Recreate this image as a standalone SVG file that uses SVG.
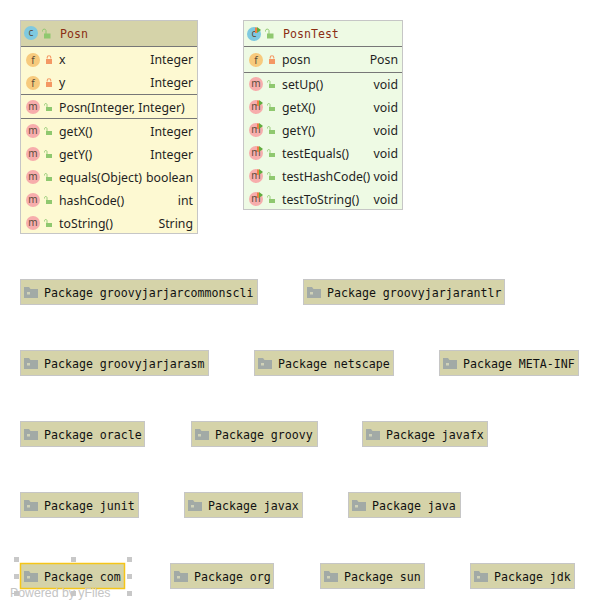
<svg xmlns="http://www.w3.org/2000/svg" width="599" height="609" viewBox="0 0 599 609">
<style>
text{font-family:"Noto Sans","Open Sans","DejaVu Sans",sans-serif;font-size:12.3px;fill:#1f1f1f}
.r{text-anchor:end}
.t{font-family:"DejaVu Sans Mono","Liberation Mono",monospace;font-size:11.6px;fill:#8b2f14}
.p{font-family:"DejaVu Sans Mono","Liberation Mono",monospace;font-size:11.6px;fill:#111}
.pk{fill:#d5d3a9;stroke:#c6c6c6;stroke-width:1}
.ln{stroke:#777;stroke-width:1}
.il{font-size:10px;text-anchor:middle;fill:#5a4a3a}
</style>
<defs>
<g id="fold"><path d="M0 -5H5L6.500 -3H14V6H0Z" fill="#a2aaa6"/><rect x="3" y="0" width="3" height="2.500" fill="#d0d2b8"/></g>
<g id="open"><path d="M-2.500 -2.500V-3.500A1.300 1.300 0 0 1 0 -3.500V-1" fill="none" stroke="#8fc86f" stroke-width="0.900"/><rect x="-1" y="-1" width="6" height="4" fill="#8fc86f"/></g>
<g id="openb"><path d="M-3.500 -2.500V-3.500A1.800 1.800 0 0 1 0 -3.500V0" fill="none" stroke="#8fc86f" stroke-width="1"/><rect x="-2" y="-0.500" width="6.500" height="5" fill="#8fc86f"/></g>
<g id="lock"><path d="M-1.800 -1.500V-2.500A1.800 1.800 0 0 1 1.800 -2.500V-1.500" fill="none" stroke="#f49864" stroke-width="1.100"/><rect x="-3" y="-1" width="6" height="5" fill="#f49864"/></g>
<g id="fi"><circle r="7" fill="#f7ca7d"/><text class="il" y="3.500">f</text></g>
<g id="mi"><circle r="7" fill="#f7adac"/><text class="il" y="3">m</text></g>
<g id="mt"><circle r="7" fill="#f7adac"/><text class="il" y="3">m</text><path d="M1 -6.500H3V-1H1Z" fill="#ef7e45"/><path d="M3 -7L7 -4L3 -1Z" fill="#5fad3e"/></g>
<g id="ct"><circle r="7" fill="#7fc9e0"/><text class="il" y="3">c</text><path d="M1 -6.500H3V-1H1Z" fill="#ef7e45"/><path d="M3 -7L7 -4L3 -1Z" fill="#5fad3e"/></g>
</defs>
<g id="connectors"></g>
<g id="node-posn">
<rect x="20.500" y="20.500" width="177" height="213" fill="#fdf9d2" stroke="#c6c6c6"/>
<rect x="21" y="21" width="176" height="25" fill="#d5d3a9"/>
<line class="ln" x1="21" x2="197" y1="46.500" y2="46.500"/>
<line class="ln" x1="21" x2="197" y1="94.500" y2="94.500"/>
<line class="ln" x1="21" x2="197" y1="118.500" y2="118.500"/>
<circle cx="31" cy="33" r="7" fill="#7fc9e0"/><text class="il" x="31" y="36">c</text>
<use href="#openb" x="46" y="34"/>
<text class="t" x="60" y="37.500">Posn</text>
<use href="#fi" x="33" y="60"/><use href="#lock" x="49" y="60"/><text x="59" y="64">x</text><text class="r" x="193" y="64">Integer</text>
<use href="#fi" x="33" y="83"/><use href="#lock" x="49" y="83"/><text x="59" y="87">y</text><text class="r" x="193" y="87">Integer</text>
<use href="#mi" x="33" y="107"/><use href="#open" x="47" y="108"/><text x="59" y="111.500">Posn(Integer, Integer)</text>
<use href="#mi" x="33" y="131"/><use href="#open" x="47" y="132"/><text x="59" y="135.500">getX()</text><text class="r" x="193" y="135.500">Integer</text>
<use href="#mi" x="33" y="154"/><use href="#open" x="47" y="155"/><text x="59" y="158.500">getY()</text><text class="r" x="193" y="158.500">Integer</text>
<use href="#mi" x="33" y="177"/><use href="#open" x="47" y="178"/><text x="59" y="181.500">equals(Object)</text><text class="r" x="193" y="181.500">boolean</text>
<use href="#mi" x="33" y="200"/><use href="#open" x="47" y="201"/><text x="59" y="204.500">hashCode()</text><text class="r" x="193" y="204.500">int</text>
<use href="#mi" x="33" y="223"/><use href="#open" x="47" y="224"/><text x="59" y="227.500">toString()</text><text class="r" x="193" y="227.500">String</text>
</g>
<g id="node-posntest">
<rect x="243.500" y="20.500" width="159" height="189" fill="#eefae4" stroke="#c6c6c6"/>
<line class="ln" x1="244" x2="402" y1="46.500" y2="46.500"/>
<line class="ln" x1="244" x2="402" y1="72.500" y2="72.500"/>
<use href="#ct" x="254" y="34"/>
<use href="#openb" x="269" y="34"/>
<text class="t" x="283" y="37.500">PosnTest</text>
<use href="#fi" x="256" y="60"/><use href="#lock" x="272" y="60"/><text x="282" y="64">posn</text><text class="r" x="398" y="64">Posn</text>
<use href="#mi" x="256" y="84"/><use href="#open" x="270" y="85"/><text x="282" y="88.500">setUp()</text><text class="r" x="398" y="88.500">void</text>
<use href="#mt" x="256" y="107"/><use href="#open" x="270" y="108"/><text x="282" y="111.500">getX()</text><text class="r" x="398" y="111.500">void</text>
<use href="#mt" x="256" y="130"/><use href="#open" x="270" y="131"/><text x="282" y="134.500">getY()</text><text class="r" x="398" y="134.500">void</text>
<use href="#mt" x="256" y="153"/><use href="#open" x="270" y="154"/><text x="282" y="157.500">testEquals()</text><text class="r" x="398" y="157.500">void</text>
<use href="#mt" x="256" y="176"/><use href="#open" x="270" y="177"/><text x="282" y="180.500">testHashCode()</text><text class="r" x="398" y="180.500">void</text>
<use href="#mt" x="256" y="199"/><use href="#open" x="270" y="200"/><text x="282" y="203.500">testToString()</text><text class="r" x="398" y="203.500">void</text>
</g>
<g id="pkg-commonscli"><rect class="pk" x="20.500" y="279.500" width="237" height="25"/><use href="#fold" x="24" y="292"/><text class="p" x="44" y="296.500">Package groovyjarjarcommonscli</text></g>
<g id="pkg-antlr"><rect class="pk" x="303.500" y="279.500" width="201" height="25"/><use href="#fold" x="307" y="292"/><text class="p" x="327" y="296.500">Package groovyjarjarantlr</text></g>
<g id="pkg-asm"><rect class="pk" x="20.500" y="350.500" width="188" height="25"/><use href="#fold" x="24" y="363"/><text class="p" x="44" y="367.500">Package groovyjarjarasm</text></g>
<g id="pkg-netscape"><rect class="pk" x="254.500" y="350.500" width="139" height="25"/><use href="#fold" x="258" y="363"/><text class="p" x="278" y="367.500">Package netscape</text></g>
<g id="pkg-meta"><rect class="pk" x="439.500" y="350.500" width="139" height="25"/><use href="#fold" x="443" y="363"/><text class="p" x="463" y="367.500">Package META-INF</text></g>
<g id="pkg-oracle"><rect class="pk" x="20.500" y="421.500" width="124" height="25"/><use href="#fold" x="24" y="434"/><text class="p" x="44" y="438.500">Package oracle</text></g>
<g id="pkg-groovy"><rect class="pk" x="191.500" y="421.500" width="126" height="25"/><use href="#fold" x="195" y="434"/><text class="p" x="215" y="438.500">Package groovy</text></g>
<g id="pkg-javafx"><rect class="pk" x="362.500" y="421.500" width="125" height="25"/><use href="#fold" x="366" y="434"/><text class="p" x="386" y="438.500">Package javafx</text></g>
<g id="pkg-junit"><rect class="pk" x="20.500" y="492.500" width="118" height="25"/><use href="#fold" x="24" y="505"/><text class="p" x="44" y="509.500">Package junit</text></g>
<g id="pkg-javax"><rect class="pk" x="184.500" y="492.500" width="118" height="25"/><use href="#fold" x="188" y="505"/><text class="p" x="208" y="509.500">Package javax</text></g>
<g id="pkg-java"><rect class="pk" x="348.500" y="492.500" width="112" height="25"/><use href="#fold" x="352" y="505"/><text class="p" x="372" y="509.500">Package java</text></g>
<g id="pkg-com"><rect class="pk" x="20.500" y="563.500" width="104" height="25" style="stroke:#f5c518;stroke-width:1.500"/><use href="#fold" x="24" y="576"/><text class="p" x="44" y="580.500">Package com</text></g>
<g id="pkg-org"><rect class="pk" x="170.500" y="563.500" width="103" height="25"/><use href="#fold" x="174" y="576"/><text class="p" x="194" y="580.500">Package org</text></g>
<g id="pkg-sun"><rect class="pk" x="320.500" y="563.500" width="104" height="25"/><use href="#fold" x="324" y="576"/><text class="p" x="344" y="580.500">Package sun</text></g>
<g id="pkg-jdk"><rect class="pk" x="470.500" y="563.500" width="104" height="25"/><use href="#fold" x="474" y="576"/><text class="p" x="494" y="580.500">Package jdk</text></g>
<g id="handles" fill="#c8c8c8">
<rect x="14" y="557" width="5" height="5"/><rect x="71" y="557" width="5" height="5"/><rect x="127" y="557" width="5" height="5"/>
<rect x="14" y="574" width="5" height="5"/><rect x="127" y="574" width="5" height="5"/>
<rect x="14" y="591" width="5" height="5"/><rect x="71" y="591" width="5" height="5"/><rect x="127" y="591" width="5" height="5"/>
</g>
<text x="10" y="597" style="font-family:'Liberation Sans',sans-serif;font-size:12.300px;fill:#c4c4c4">Powered by yFiles</text>
</svg>
